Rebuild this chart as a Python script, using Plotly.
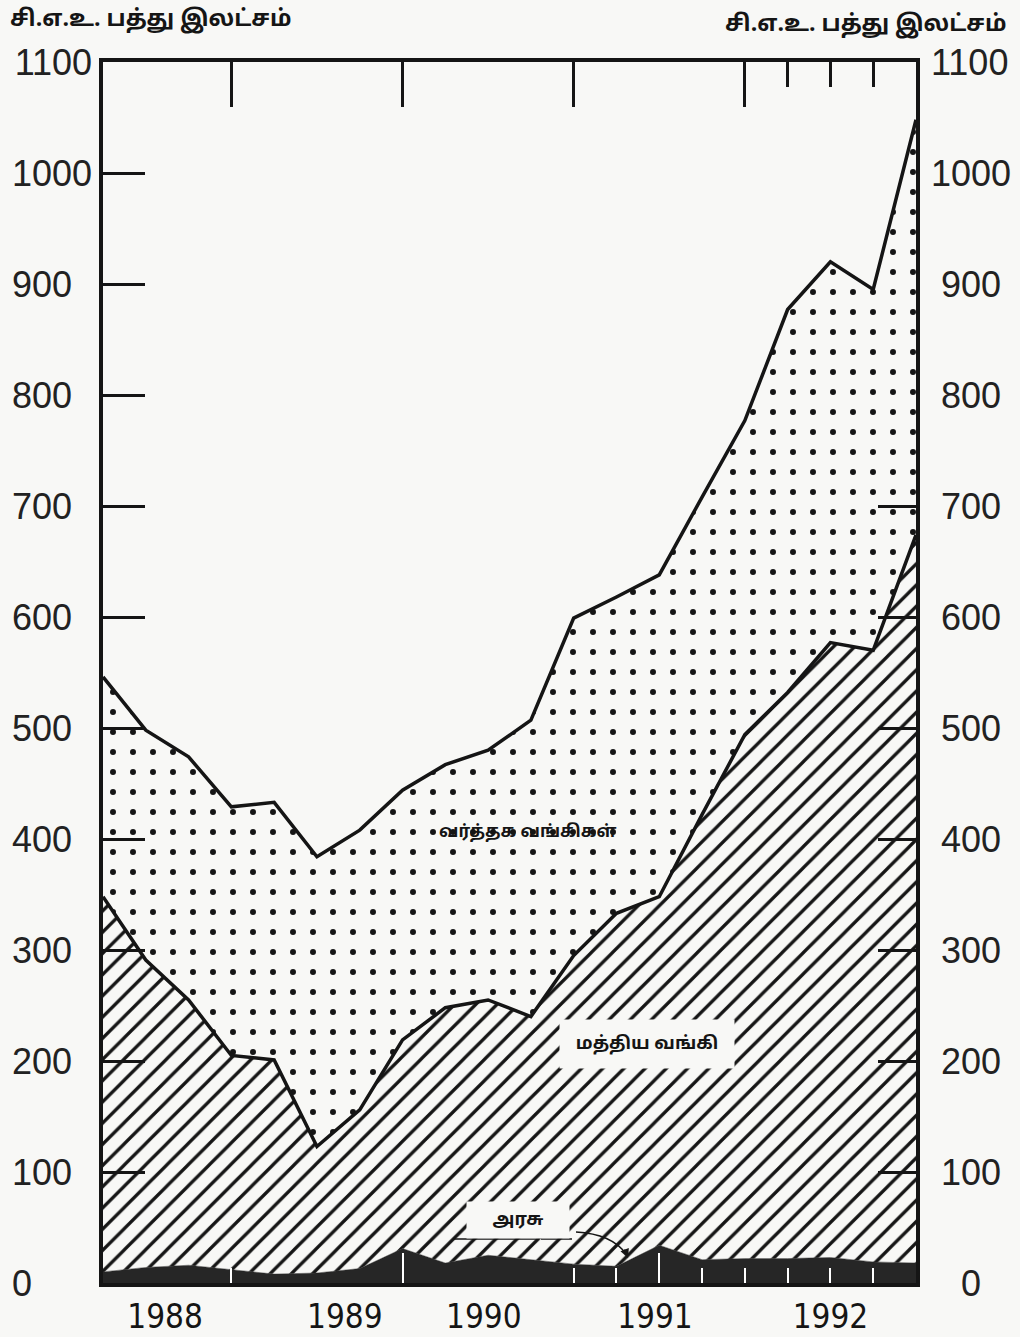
import plotly.graph_objects as go

# ---------------- data (quarterly) ----------------
quarters = ["1988 Q1", "1988 Q2", "1988 Q3", "1988 Q4",
            "1989 Q1", "1989 Q2", "1989 Q3", "1989 Q4",
            "1990 Q1", "1990 Q2", "1990 Q3", "1990 Q4",
            "1991 Q1", "1991 Q2", "1991 Q3", "1991 Q4",
            "1992 Q1", "1992 Q2", "1992 Q3", "1992 Q4"]
government = [10, 14, 16, 12, 8, 9, 13, 31, 18, 25, 21, 17, 15, 34, 21, 22, 22, 23, 19, 18]
central_bank = [338, 277, 239, 193, 193, 114, 143, 188, 230, 230, 219, 278, 318, 314, 401, 472, 510, 554, 551, 656]
commercial_banks = [198, 207, 219, 224, 232, 261, 252, 225, 219, 225, 267, 304, 285, 290, 286, 283, 345, 343, 325, 374]

year_labels = ["1988", "1989", "1990", "1991", "1992"]
year_label_pos = [1.45, 5.65, 8.9, 12.9, 17.0]
y_ticks = [0, 100, 200, 300, 400, 500, 600, 700, 800, 900, 1000, 1100]

unit_label = "சி.எ.உ. பத்து இலட்சம்"
lbl_commercial = "வர்த்தக வங்கிகள்"
lbl_central = "மத்திய வங்கி"
lbl_gov = "அரசு"

x = list(range(len(quarters)))

NB = "\u00a0"
# left labels: left-aligned look (pad on the right); right labels: centred look
left_text = [str(v) + NB * (2 * (4 - len(str(v)))) for v in y_ticks]
right_text = [NB * (4 - len(str(v))) + str(v) for v in y_ticks]

# ---------------- geometry ----------------
W, H = 1020, 1337
ML, MR, MT, MB = 103, 104, 62, 54
PW = W - ML - MR
PH = H - MT - MB


def px(xp):
    return (xp - ML) / PW


def py(yp):
    return (H - MB - yp) / PH


BG = "#f8f8f6"
INK = "#151515"
TAMIL = "Noto Sans Tamil, Lohit Tamil, Latha, Noto Sans, sans-serif"
NUM = "Liberation Sans, Arial, sans-serif"
NARROW = "Liberation Sans Narrow, DejaVu Sans Condensed, Arial Narrow, sans-serif"

fig = go.Figure()

fig.add_trace(go.Scatter(
    x=x, y=government, name=lbl_gov, stackgroup="s",
    mode="lines", line=dict(color="#262626", width=0.5),
    fillcolor="#262626", hoverinfo="skip"))

fig.add_trace(go.Scatter(
    x=x, y=central_bank, name=lbl_central, stackgroup="s",
    mode="lines", line=dict(color=INK, width=3.5),
    fillpattern=dict(shape="/", size=15, solidity=0.22,
                     fgcolor=INK, bgcolor=BG, fillmode="replace"),
    hoverinfo="skip"))

fig.add_trace(go.Scatter(
    x=x, y=commercial_banks, name=lbl_commercial, stackgroup="s",
    mode="lines", line=dict(color=INK, width=3.5),
    fillpattern=dict(shape=".", size=20, solidity=0.07,
                     fgcolor=INK, bgcolor=BG, fillmode="replace"),
    hoverinfo="skip"))

# empty carriers so that the overlay axes are drawn
for xa, ya in [("x2", "y"), ("x3", "y"), ("x", "y3")]:
    fig.add_trace(go.Scatter(x=[None], y=[None], xaxis=xa, yaxis=ya,
                             mode="lines", showlegend=False, hoverinfo="skip"))

axis_common = dict(showgrid=False, zeroline=False, automargin=False)

fig.update_layout(
    width=W, height=H,
    margin=dict(l=ML, r=MR, t=MT, b=MB, autoexpand=False),
    paper_bgcolor=BG, plot_bgcolor=BG,
    showlegend=False,
    xaxis=dict(range=[0, 19], anchor="y",
               tickvals=year_label_pos, ticktext=year_labels, ticks="",
               tickfont=dict(family=NARROW, size=33, color=INK),
               ticklabelstandoff=2,
               showline=True, mirror=True, linecolor=INK, linewidth=3.5,
               **axis_common),
    xaxis2=dict(range=[0, 19], overlaying="x", anchor="y", side="top",
                tickvals=[3, 7, 11, 15], ticks="inside", ticklen=45, tickwidth=3,
                tickcolor=INK, showticklabels=False,
                minor=dict(tickvals=[16, 17, 18], ticks="inside", ticklen=25,
                           tickwidth=3, tickcolor=INK),
                **axis_common),
    xaxis3=dict(range=[0, 19], overlaying="x", anchor="y", side="bottom",
                tickvals=[7, 13], ticks="inside", ticklen=30, tickwidth=2,
                tickcolor="white", showticklabels=False,
                minor=dict(tickvals=[3, 11, 12, 14, 15, 16, 17, 18], ticks="inside",
                           ticklen=15, tickwidth=2, tickcolor="white"),
                **axis_common),
    yaxis=dict(range=[0, 1100], anchor="x",
               tickvals=y_ticks, ticktext=left_text, ticks="inside", ticklen=42,
               tickwidth=2.5, tickcolor=INK, ticklabelstandoff=0,
               tickfont=dict(family=NUM, size=36, color="#222222"),
               showline=True, mirror=True, linecolor=INK, linewidth=3.5,
               **axis_common),
    yaxis3=dict(range=[0, 1100], overlaying="y", anchor="x", side="right",
                tickvals=y_ticks, ticktext=right_text, ticks="", ticklabelstandoff=14,
                tickfont=dict(family=NUM, size=36, color="#222222"),
                minor=dict(tickvals=[100, 200, 300, 400, 500, 600, 700], ticks="inside",
                           ticklen=38, tickwidth=2.5, tickcolor=INK),
                showline=False, **axis_common),
)

# header unit labels
fig.add_annotation(text="<b>" + unit_label + "</b>", xref="paper", yref="paper",
                   x=px(8), y=py(20), xanchor="left", yanchor="middle", showarrow=False,
                   font=dict(family=TAMIL, size=23, color=INK))
fig.add_annotation(text="<b>" + unit_label + "</b>", xref="paper", yref="paper",
                   x=px(1008), y=py(25), xanchor="right", yanchor="middle", showarrow=False,
                   font=dict(family=TAMIL, size=23, color=INK))

# series labels
fig.add_annotation(text="<b>" + lbl_commercial + "</b>", xref="paper", yref="paper",
                   x=px(527), y=py(832), xanchor="center", yanchor="middle", showarrow=False,
                   font=dict(family=TAMIL, size=17, color=INK))
fig.add_annotation(text="<b>" + lbl_central + "</b>", xref="paper", yref="paper",
                   x=px(647), y=py(1044), xanchor="center", yanchor="middle",
                   showarrow=False, bgcolor=BG, width=172, height=46,
                   font=dict(family=TAMIL, size=18, color=INK))
fig.add_annotation(text="<b>" + lbl_gov + "</b>", xref="paper", yref="paper",
                   x=px(518), y=py(1220), xanchor="center", yanchor="middle",
                   showarrow=False, bgcolor=BG, width=100, height=34,
                   font=dict(family=TAMIL, size=18, color=INK))

# underline beneath the government label
fig.add_shape(type="line", xref="paper", yref="paper",
              x0=px(453), x1=px(537), y0=py(1239), y1=py(1239),
              line=dict(color=INK, width=1.5))
fig.add_shape(type="line", xref="paper", yref="paper",
              x0=px(541), x1=px(572), y0=py(1239), y1=py(1239),
              line=dict(color=INK, width=1.5))

# curved pointer to the government series
path = "M {:.5f},{:.5f} Q {:.5f},{:.5f} {:.5f},{:.5f}".format(
    px(576), py(1232), px(612), py(1234), px(626), py(1254))
fig.add_shape(type="path", xref="paper", yref="paper", path=path,
              line=dict(color=INK, width=1.5))
fig.add_annotation(text="", xref="paper", yref="paper", x=px(628), y=py(1258),
                   ax=-4, ay=-10, showarrow=True, arrowhead=2, arrowsize=1.2,
                   arrowwidth=1.5, arrowcolor=INK)

fig.write_html("out.html",
               config={"displayModeBar": False},
               post_script="document.body.style.margin='0';document.body.style.overflow='hidden';")
